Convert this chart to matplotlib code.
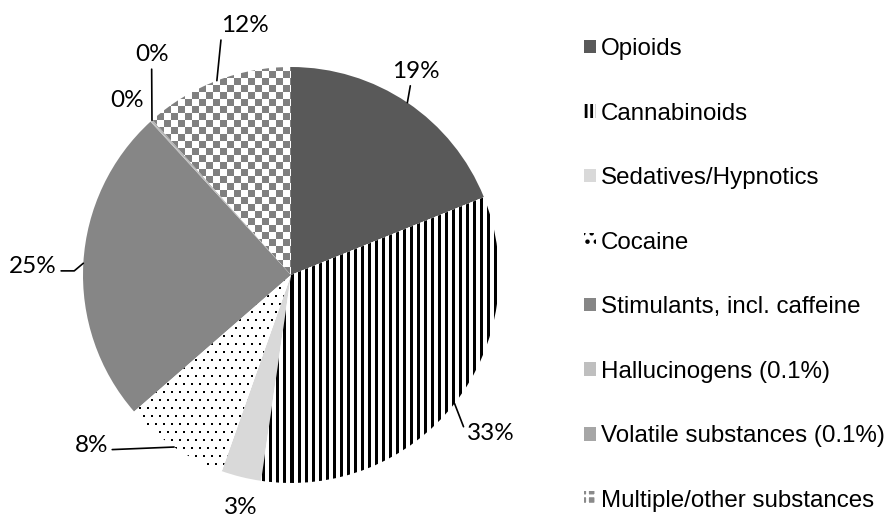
import numpy as np
import matplotlib
matplotlib.use("Agg")
import matplotlib.pyplot as plt
from matplotlib.patches import Patch

substances = [
    "Opioids",
    "Cannabinoids",
    "Sedatives/Hypnotics",
    "Cocaine",
    "Stimulants, incl. caffeine",
    "Hallucinogens (0.1%)",
    "Volatile substances (0.1%)",
    "Multiple/other substances",
]
shares = [18.9, 33.4, 3.1, 8.2, 24.6, 0.1, 0.1, 11.6]

# fills: plain grey or a texture name
fills = ["#595959", "stripes", "#d9d9d9", "dots", "#868686", "#bfbfbf", "#a6a6a6", "checker"]

# label text centres (pie data units), where the leader leaves the text, leader shape
label_pos = [(0.60, 0.98), (0.96, -0.76), (-0.24, -1.12), (-0.96, -0.82),
             (-1.24, 0.04), (-0.79, 0.84), (-0.67, 1.06), (-0.22, 1.20)]
label_rel = [(0.4, 0.0), (0.0, 0.4), None, (1.0, 0.3),
             (1.0, 0.3), None, (0.5, 0.0), (0.0, 0.0)]
label_conn = ["arc3", "arc3", "arc3", "arc3",
              "angle,angleA=0,angleB=40,rad=0", "arc3", "arc3", "arc3"]

plt.rcParams["hatch.linewidth"] = 2.0

fig = plt.figure(figsize=(8.88, 5.15), dpi=100)
W, H = 888, 515
cx, cy, R = 291, 275, 208
half = 1.25 * R
ax = fig.add_axes([(cx - half) / W, (H - cy - half) / H, 2 * half / W, 2 * half / H])

face = [f if f.startswith("#") else "white" for f in fills]
wedges, _ = ax.pie(shares, colors=face, startangle=90, counterclock=False,
                   radius=1, wedgeprops=dict(linewidth=0))
ax.axis("off")

# pixel textures, clipped to their wedges
n = int(round(2 * half))
rows, cols = np.mgrid[0:n, 0:n]
tex = {
    "stripes": np.where(cols % 7 < 3, 0.0, 1.0),
    "checker": np.where(((rows // 7) + (cols // 7)) % 2 == 0, 0.5, 1.0),
    "dots": np.where((rows % 8 < 2) & (((cols + 4 * ((rows // 8) % 2)) % 8) < 2), 0.0, 1.0),
}
for w, f in zip(wedges, fills):
    if f in tex:
        im = ax.imshow(tex[f], cmap="gray", vmin=0, vmax=1, interpolation="nearest",
                       extent=(-1.25, 1.25, -1.25, 1.25), zorder=2)
        im.set_clip_path(w)
ax.set_xlim(-1.25, 1.25)
ax.set_ylim(-1.25, 1.25)
ax.set_aspect("auto")

# percentage labels with leader lines
for w, v, pos, rel, conn in zip(wedges, shares, label_pos, label_rel, label_conn):
    a = np.deg2rad((w.theta1 + w.theta2) / 2)
    edge = (np.cos(a), np.sin(a))
    props = None
    if rel is not None:
        props = dict(arrowstyle="-", color="black", lw=1.2, relpos=rel,
                     shrinkA=1, shrinkB=0, connectionstyle=conn)
    ax.annotate(f"{v:.0f}%", xy=edge, xytext=pos, ha="center", va="center",
                fontsize=17.5, family="Lato", arrowprops=props, zorder=5,
                annotation_clip=False)

handles = []
for f in fills:
    if f == "stripes":
        handles.append(Patch(facecolor="white", edgecolor="black", hatch="|||", lw=0))
    elif f == "dots":
        handles.append(Patch(facecolor="white", edgecolor="black", hatch="..", lw=0))
    elif f == "checker":
        handles.append(Patch(facecolor="#8a8a8a", edgecolor="white", hatch="++", lw=0))
    else:
        handles.append(Patch(facecolor=f, lw=0))

fig.legend(handles, substances, loc="upper left", bbox_to_anchor=(584 / W, 1 - 38 / H),
           frameon=False, prop=dict(family="Liberation Sans", size=17.4),
           handlelength=0.5, handleheight=0.5, handletextpad=0.2,
           labelspacing=1.76, borderpad=0, borderaxespad=0)

fig.savefig("out.png", dpi=100)
